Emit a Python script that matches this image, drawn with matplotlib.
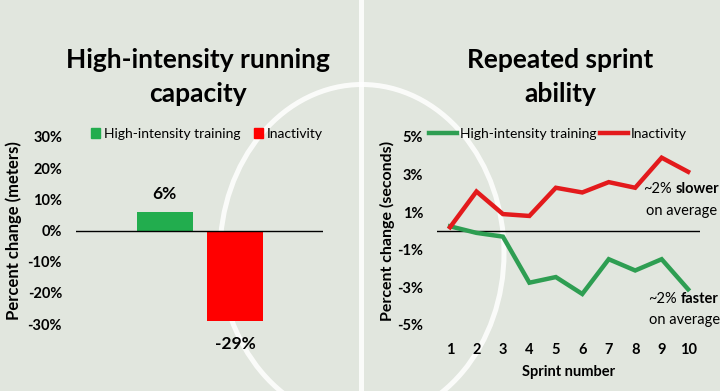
import numpy as np
import matplotlib.pyplot as plt
from matplotlib.patches import Ellipse, Patch
from matplotlib.lines import Line2D

plt.rcParams['font.family'] = ['Lato', 'DejaVu Sans']

# data
groups = ['High-intensity training', 'Inactivity']
capacity = [6, -29]
sprints = [1, 2, 3, 4, 5, 6, 7, 8, 9, 10]
sprint_training = [0.25, -0.1, -0.3, -2.75, -2.45, -3.35, -1.5, -2.1, -1.5, -3.1]
sprint_inactivity = [0.2, 2.1, 0.9, 0.8, 2.3, 2.05, 2.6, 2.3, 3.9, 3.15]
cap_ticks = [30, 20, 10, 0, -10, -20, -30]
sprint_ticks = [5, 3, 1, -1, -3, -5]

bg = '#e1e6de'
green_bar = '#22ad4e'
red_bar = '#ff0000'
green_line = '#2e9e52'
red_line = '#e31a1c'

W, H = 720, 391
fig = plt.figure(figsize=(7.2, 3.91), dpi=100)
fig.patch.set_facecolor(bg)

# pitch markings (centre line and centre circle), behind everything
fig.lines.append(Line2D([361/W, 361/W], [0, 1], transform=fig.transFigure,
                        color='white', lw=3.6, alpha=0.85, zorder=-5))
fig.patches.append(Ellipse((362/W, (H-253)/H), 284/W, 337/H, transform=fig.transFigure,
                           fill=False, ec='white', lw=3.6, alpha=0.85, zorder=-5))

def px_axes(x0, x1, ytop, ybot):
    return fig.add_axes([x0/W, (H-ybot)/H, (x1-x0)/W, (ybot-ytop)/H])

def title(xc, lines):
    for txt, base in zip(lines, [68, 102]):
        fig.text(xc/W, (H-base)/H, txt, ha='center', va='baseline',
                 fontsize=19, fontweight='bold')

def note(x, y, word):
    t = fig.text(x/W, (H-y)/H, '~2%', ha='left', va='center', fontsize=10.5)
    fig.axes[-1].annotate(word, xy=(1, 0.5), xycoords=t, xytext=(3, 0),
                          textcoords='offset points', ha='left', va='center',
                          fontsize=10.5, fontweight='bold', annotation_clip=False)

# ---- left: bar chart
ax1 = px_axes(76, 323, 137, 324)
ax1.set_facecolor('none')
for s in ax1.spines.values():
    s.set_visible(False)
xs = np.arange(len(groups))
ax1.bar(xs, capacity, width=0.8, color=[green_bar, red_bar])
ax1.axhline(0, color='black', lw=1)
ax1.set_xlim(-1.26, 2.25)
ax1.set_ylim(-30, 30)
ax1.set_yticks(cap_ticks)
ax1.set_yticklabels([f'{t}%' for t in cap_ticks])
ax1.set_xticks([])
ax1.tick_params(axis='y', length=0, pad=10, labelsize=10.5)
for lab in ax1.get_yticklabels():
    lab.set_fontweight('bold')
ax1.set_ylabel('Percent change (meters)', fontsize=12, fontweight='bold')
ax1.yaxis.set_label_coords(-0.219, 0.5)
for x, v in zip(xs, capacity):
    off = 13 if v > 0 else -17
    ax1.annotate(f'{v}%', (x, v), xytext=(0, off), textcoords='offset points',
                 ha='center', va='center', fontsize=12.5, fontweight='bold')
ax1.legend([Patch(color=green_bar), Patch(color=red_bar)], groups,
           loc='center', bbox_to_anchor=(207/W, (H-134)/H), bbox_transform=fig.transFigure,
           ncol=2, frameon=False, fontsize=10, handlelength=0.65, handleheight=0.65,
           handletextpad=0.25, columnspacing=1.0, borderpad=0)
title(198, ['High-intensity running', 'capacity'])

# ---- right: line chart
ax2 = px_axes(437, 700, 137, 325)
ax2.set_facecolor('none')
for s in ax2.spines.values():
    s.set_visible(False)
ax2.plot(sprints, sprint_training, color=green_line, lw=3.2, solid_joinstyle='miter')
ax2.plot(sprints, sprint_inactivity, color=red_line, lw=3.2, solid_joinstyle='miter')
ax2.axhline(0, color='black', lw=1, zorder=1)
ax2.set_xlim(0.508, 10.45)
ax2.set_ylim(-5, 5)
ax2.set_yticks(sprint_ticks)
ax2.set_yticklabels([f'{t}%' for t in sprint_ticks])
ax2.set_xticks(sprints)
ax2.tick_params(length=0, labelsize=10.5)
ax2.tick_params(axis='y', pad=10)
ax2.tick_params(axis='x', pad=13)
for lab in ax2.get_yticklabels() + ax2.get_xticklabels():
    lab.set_fontweight('bold')
ax2.set_ylabel('Percent change (seconds)', fontsize=11.5, fontweight='bold')
ax2.yaxis.set_label_coords(-0.16, 0.5)
ax2.set_xlabel('Sprint number', fontsize=10.5, fontweight='bold', labelpad=6)
ax2.legend([Line2D([], [], color=green_line, lw=3.2), Line2D([], [], color=red_line, lw=3.2)],
           groups, loc='center', bbox_to_anchor=(558/W, (H-134)/H), bbox_transform=fig.transFigure,
           ncol=2, frameon=False, fontsize=10, handlelength=2.0, handletextpad=0.2,
           columnspacing=0.3, borderpad=0)
title(560, ['Repeated sprint', 'ability'])

# annotations on the right
note(643, 189, 'slower')
fig.text(646/W, (H-211)/H, 'on average', ha='left', va='center', fontsize=10.5)
note(648, 299, 'faster')
fig.text(649/W, (H-320)/H, 'on average', ha='left', va='center', fontsize=10.5)

fig.savefig('out.png', dpi=100, facecolor=bg)
